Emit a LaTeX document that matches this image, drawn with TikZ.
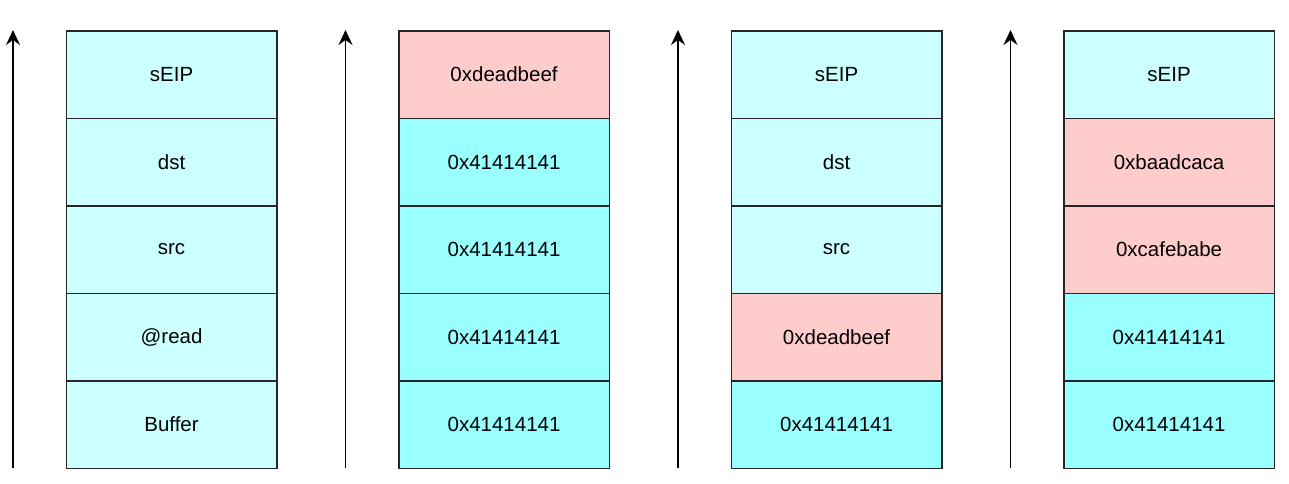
\documentclass[tikz,border=0pt]{standalone}
\usepackage{fontspec}
\setmainfont{Liberation Sans}
\usetikzlibrary{arrows.meta}
\definecolor{lc}{HTML}{CCFFFF}
\definecolor{bc}{HTML}{99FFFF}
\definecolor{pk}{HTML}{FFCCCC}
\begin{document}
\begin{tikzpicture}[x=1pt,y=-1pt,
  cell/.style={draw=black!85,line width=1.6pt,minimum width=210.5pt,minimum height=87.5pt,inner sep=0pt,font=\fontsize{20.5pt}{24pt}\selectfont,anchor=north west},
  upline/.style={draw=black,line width=1.6pt,-{Stealth[length=15pt,width=14pt,inset=5pt]}}]
\useasboundingbox (0,0) rectangle (1289,483);
% stack 1
\node[cell,fill=lc] (a1) at (65.5,30) {sEIP};
\node[cell,fill=lc] (a2) at (65.5,117.5) {dst};
\node[cell,fill=lc] (a3) at (65.5,205) {src};
\node[cell,fill=lc] (a4) at (65.5,292.5) {@read};
\node[cell,fill=lc] (a5) at (65.5,380) {Buffer};
% stack 2
\node[cell,fill=pk] (b1) at (398,30) {0xdeadbeef};
\node[cell,fill=bc] (b2) at (398,117.5) {0x41414141};
\node[cell,fill=bc] (b3) at (398,205) {0x41414141};
\node[cell,fill=bc] (b4) at (398,292.5) {0x41414141};
\node[cell,fill=bc] (b5) at (398,380) {0x41414141};
% stack 3
\node[cell,fill=lc] (c1) at (730.5,30) {sEIP};
\node[cell,fill=lc] (c2) at (730.5,117.5) {dst};
\node[cell,fill=lc] (c3) at (730.5,205) {src};
\node[cell,fill=pk] (c4) at (730.5,292.5) {0xdeadbeef};
\node[cell,fill=bc] (c5) at (730.5,380) {0x41414141};
% stack 4
\node[cell,fill=lc] (d1) at (1063,30) {sEIP};
\node[cell,fill=pk] (d2) at (1063,117.5) {0xbaadcaca};
\node[cell,fill=pk] (d3) at (1063,205) {0xcafebabe};
\node[cell,fill=bc] (d4) at (1063,292.5) {0x41414141};
\node[cell,fill=bc] (d5) at (1063,380) {0x41414141};
% arrows
\coordinate (s1) at (13,468); \coordinate (e1) at (13,30);
\coordinate (s2) at (345.5,468); \coordinate (e2) at (345.5,30);
\coordinate (s3) at (678,468); \coordinate (e3) at (678,30);
\coordinate (s4) at (1010.5,468); \coordinate (e4) at (1010.5,30);
\draw[upline] (s1) -- (e1);
\draw[upline] (s2) -- (e2);
\draw[upline] (s3) -- (e3);
\draw[upline] (s4) -- (e4);
\end{tikzpicture}
\end{document}
